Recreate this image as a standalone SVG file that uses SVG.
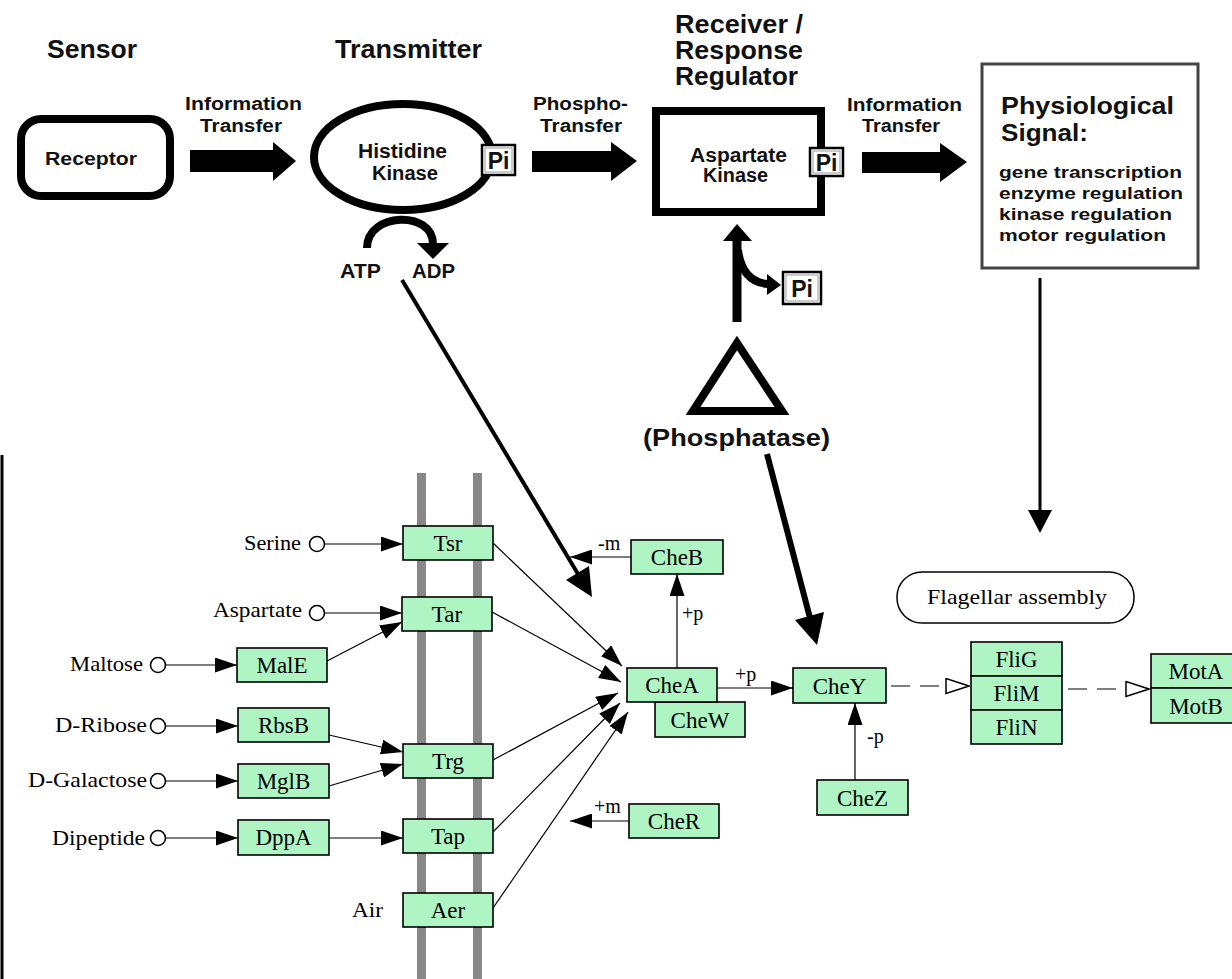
<svg xmlns="http://www.w3.org/2000/svg" width="1232" height="979" viewBox="0 0 1232 979">
<defs>
<style>
.hd{font-family:"Liberation Sans",Arial,sans-serif;font-weight:bold;fill:#111;}
.sr{font-family:"Liberation Serif","Times New Roman",serif;fill:#000;font-size:21px;}
.lb{font-family:"Liberation Serif","Times New Roman",serif;fill:#000;font-size:20px;}
.nd{fill:#AFF5C3;stroke:#000;stroke-width:1.6;}
.nt{font-family:"Liberation Serif","Times New Roman",serif;font-size:23px;text-anchor:middle;fill:#000;}
.thin{stroke:#000;stroke-width:1.2;fill:none;}
.ar{marker-end:url(#ah);}
.cir{fill:#fff;stroke:#000;stroke-width:1.6;}
.pi{fill:#fff;stroke:#000;stroke-width:2.5;}
.pin{fill:none;stroke:#999;stroke-width:1;}
.pit{font-family:"Liberation Sans",Arial,sans-serif;font-weight:bold;font-size:23px;text-anchor:middle;fill:#111;}
.thick{fill:#fff;stroke:#000;stroke-width:8;}
.mem{fill:#888;}
</style>
<marker id="ah" markerUnits="userSpaceOnUse" markerWidth="22" markerHeight="15" refX="22" refY="7.5" orient="auto" viewBox="0 0 22 15"><path d="M0,0 L22,7.5 L0,15 z" fill="#000"/></marker>
<marker id="oh" markerUnits="userSpaceOnUse" markerWidth="25" markerHeight="17" refX="24" refY="8.5" orient="auto" viewBox="0 0 25 17"><path d="M1,1 L24,8.5 L1,16 z" fill="#fff" stroke="#000" stroke-width="1.5"/></marker>
</defs>
<rect width="1232" height="979" fill="#fff"/>

<!-- headers -->
<g id="headers">
<text class="hd" x="47" y="58" font-size="25" textLength="90" lengthAdjust="spacingAndGlyphs">Sensor</text>
<text class="hd" x="335" y="58" font-size="25" textLength="147" lengthAdjust="spacingAndGlyphs">Transmitter</text>
<text class="hd" x="675" y="33" font-size="25" textLength="128" lengthAdjust="spacingAndGlyphs">Receiver /</text>
<text class="hd" x="675" y="59" font-size="25" textLength="128" lengthAdjust="spacingAndGlyphs">Response</text>
<text class="hd" x="675" y="85" font-size="25" textLength="123" lengthAdjust="spacingAndGlyphs">Regulator</text>
</g>

<!-- membrane -->
<g id="membrane">
<rect class="mem" x="417" y="473" width="9" height="506"/>
<rect class="mem" x="473" y="473" width="9" height="506"/>
</g>
<line x1="2" y1="455" x2="2" y2="979" stroke="#000" stroke-width="3"/>

<g id="connectors">
<!-- block arrows -->
<polygon points="190,150 273,150 273,142 296,161 273,181 273,172 190,172" fill="#000"/>
<text class="hd" x="185" y="110" font-size="18" textLength="117" lengthAdjust="spacingAndGlyphs">Information</text>
<text class="hd" x="200" y="132" font-size="18" textLength="82" lengthAdjust="spacingAndGlyphs">Transfer</text>
<polygon points="532,151 611,151 611,142 637,161 611,181 611,172 532,172" fill="#000"/>
<text class="hd" x="533" y="110" font-size="18" textLength="95" lengthAdjust="spacingAndGlyphs">Phospho-</text>
<text class="hd" x="540" y="132" font-size="18" textLength="82" lengthAdjust="spacingAndGlyphs">Transfer</text>
<polygon points="862,152 940,152 940,143 967,162 940,182 940,173 862,173" fill="#000"/>
<text class="hd" x="847" y="111" font-size="18" textLength="115" lengthAdjust="spacingAndGlyphs">Information</text>
<text class="hd" x="862" y="132" font-size="18" textLength="78" lengthAdjust="spacingAndGlyphs">Transfer</text>
<!-- ATP/ADP arc -->
<path d="M367,248 C367,212 433,210 433,244" fill="none" stroke="#000" stroke-width="8"/>
<polygon points="417,243 449,243 433,259" fill="#000"/>
<!-- phosphatase arrows -->
<line x1="737" y1="322" x2="737" y2="238" stroke="#000" stroke-width="9"/>
<polygon points="723,241 752,241 737,224" fill="#000"/>
<path d="M738,250 Q742,282 768,284" fill="none" stroke="#000" stroke-width="8"/>
<polygon points="767,274 767,295 781,285" fill="#000"/>
<!-- long arrows -->
<line x1="402" y1="280" x2="578" y2="574" stroke="#000" stroke-width="4"/>
<polygon points="592,597 589,566 566,580" fill="#000"/>
<line x1="767" y1="454" x2="810" y2="618" stroke="#000" stroke-width="6"/>
<polygon points="817,645 824,612 795,620" fill="#000"/>
<line x1="1040" y1="278" x2="1040" y2="512" stroke="#000" stroke-width="3"/>
<polygon points="1028,510 1052,510 1040,533" fill="#000"/>

<!-- pathway -->
<circle class="cir" cx="317" cy="544" r="7.5"/>
<line class="thin ar" x1="325" y1="544" x2="403" y2="544"/>
<circle class="cir" cx="317" cy="613" r="7.5"/>
<line class="thin ar" x1="325" y1="613" x2="402" y2="613"/>
<circle class="cir" cx="158" cy="665" r="7.5"/>
<line class="thin ar" x1="166" y1="665" x2="237" y2="665"/>
<circle class="cir" cx="158" cy="726" r="7.5"/>
<line class="thin ar" x1="166" y1="726" x2="238" y2="726"/>
<circle class="cir" cx="158" cy="781" r="7.5"/>
<line class="thin ar" x1="166" y1="781" x2="238" y2="781"/>
<circle class="cir" cx="158" cy="838" r="7.5"/>
<line class="thin ar" x1="166" y1="838" x2="238" y2="838"/>
<line class="thin ar" x1="327" y1="661" x2="402" y2="622"/>
<line class="thin ar" x1="329" y1="735" x2="403" y2="752"/>
<line class="thin ar" x1="329" y1="786" x2="403" y2="764"/>
<line class="thin ar" x1="329" y1="838" x2="403" y2="838"/>
<line class="thin ar" x1="493" y1="543" x2="622" y2="666"/>
<line class="thin ar" x1="492" y1="612" x2="621" y2="682"/>
<line class="thin ar" x1="493" y1="760" x2="618" y2="693"/>
<line class="thin ar" x1="493" y1="832" x2="620" y2="703"/>
<line class="thin ar" x1="493" y1="908" x2="628" y2="712"/>
<line class="thin ar" x1="677" y1="668" x2="677" y2="574"/>
<line class="thin ar" x1="631" y1="557" x2="570" y2="557"/>
<line class="thin ar" x1="629" y1="821" x2="570" y2="821"/>
<line class="thin ar" x1="717" y1="688" x2="793" y2="688"/>
<line class="thin ar" x1="855" y1="780" x2="855" y2="703"/>
<line class="thin" x1="891" y1="686" x2="969" y2="686" stroke-dasharray="19 10" marker-end="url(#oh)"/>
<line class="thin" x1="1068" y1="689" x2="1149" y2="689" stroke-dasharray="19 10" marker-end="url(#oh)"/>
<text class="lb" x="598" y="550">-m</text>
<text class="lb" x="682" y="620">+p</text>
<text class="lb" x="735" y="681">+p</text>
<text class="lb" x="594" y="813">+m</text>
<text class="lb" x="867" y="743">-p</text>
</g>

<!-- top nodes -->
<g id="receptor">
<rect class="thick" x="21" y="119" width="149" height="77" rx="20"/>
<text class="hd" x="45" y="165" font-size="19" textLength="92" lengthAdjust="spacingAndGlyphs">Receptor</text>
</g>
<g id="histidine-kinase">
<ellipse class="thick" cx="403" cy="157" rx="89" ry="53"/>
<text class="hd" x="358" y="158" font-size="20" textLength="89" lengthAdjust="spacingAndGlyphs">Histidine</text>
<text class="hd" x="372" y="180" font-size="20" textLength="66" lengthAdjust="spacingAndGlyphs">Kinase</text>
<rect class="pi" x="482" y="145" width="33" height="30"/>
<rect class="pin" x="485" y="148" width="27" height="24"/>
<text class="pit" x="498.5" y="169">Pi</text>
</g>
<g id="atp">
<text class="hd" x="340" y="278" font-size="20" textLength="41" lengthAdjust="spacingAndGlyphs">ATP</text>
</g>
<g id="adp">
<text class="hd" x="412" y="278" font-size="20" textLength="43" lengthAdjust="spacingAndGlyphs">ADP</text>
</g>
<g id="aspartate-kinase">
<rect class="thick" x="656" y="111" width="165" height="101"/>
<text class="hd" x="690" y="162" font-size="20" textLength="97" lengthAdjust="spacingAndGlyphs">Aspartate</text>
<text class="hd" x="703" y="182" font-size="20" textLength="65" lengthAdjust="spacingAndGlyphs">Kinase</text>
<rect class="pi" x="810" y="148" width="33" height="28"/>
<rect class="pin" x="813" y="151" width="27" height="22"/>
<text class="pit" x="826.5" y="171">Pi</text>
</g>
<g id="pi-released">
<rect class="pi" x="783" y="272" width="38" height="32"/>
<rect class="pin" x="786" y="275" width="32" height="26"/>
<text class="pit" x="802" y="297">Pi</text>
</g>
<g id="phosphatase">
<polygon points="737,343 693,411 782,411" fill="#fff" stroke="#000" stroke-width="8" stroke-linejoin="miter"/>
<text class="hd" x="643" y="446" font-size="24" textLength="187" lengthAdjust="spacingAndGlyphs">(Phosphatase)</text>
</g>
<g id="physiological-signal">
<rect x="982" y="64" width="216" height="204" fill="#fff" stroke="#444" stroke-width="3"/>
<text class="hd" x="1001" y="114" font-size="24" textLength="173" lengthAdjust="spacingAndGlyphs">Physiological</text>
<text class="hd" x="1001" y="141" font-size="24" textLength="87" lengthAdjust="spacingAndGlyphs">Signal:</text>
<text class="hd" x="999" y="178" font-size="17" textLength="183" lengthAdjust="spacingAndGlyphs">gene transcription</text>
<text class="hd" x="999" y="199" font-size="17" textLength="184" lengthAdjust="spacingAndGlyphs">enzyme regulation</text>
<text class="hd" x="999" y="220" font-size="17" textLength="173" lengthAdjust="spacingAndGlyphs">kinase regulation</text>
<text class="hd" x="999" y="241" font-size="17" textLength="167" lengthAdjust="spacingAndGlyphs">motor regulation</text>
</g>

<!-- ligands -->
<g id="serine"><text class="sr" x="301" y="550" text-anchor="end" textLength="57" lengthAdjust="spacingAndGlyphs">Serine</text></g>
<g id="aspartate"><text class="sr" x="302" y="617" text-anchor="end" textLength="89" lengthAdjust="spacingAndGlyphs">Aspartate</text></g>
<g id="maltose"><text class="sr" x="143" y="671" text-anchor="end" textLength="73" lengthAdjust="spacingAndGlyphs">Maltose</text></g>
<g id="d-ribose"><text class="sr" x="147" y="732" text-anchor="end" textLength="92" lengthAdjust="spacingAndGlyphs">D-Ribose</text></g>
<g id="d-galactose"><text class="sr" x="147" y="787" text-anchor="end" textLength="119" lengthAdjust="spacingAndGlyphs">D-Galactose</text></g>
<g id="dipeptide"><text class="sr" x="145" y="845" text-anchor="end" textLength="93" lengthAdjust="spacingAndGlyphs">Dipeptide</text></g>
<g id="air"><text class="sr" x="383" y="917" text-anchor="end" textLength="31" lengthAdjust="spacingAndGlyphs">Air</text></g>

<!-- gene nodes -->
<g id="Tsr"><rect class="nd" x="403" y="526" width="90" height="34"/><text class="nt" x="448" y="551">Tsr</text></g>
<g id="Tar"><rect class="nd" x="402" y="597" width="90" height="34"/><text class="nt" x="447" y="622">Tar</text></g>
<g id="Trg"><rect class="nd" x="403" y="744" width="90" height="34"/><text class="nt" x="448" y="769">Trg</text></g>
<g id="Tap"><rect class="nd" x="403" y="819" width="90" height="34"/><text class="nt" x="448" y="844">Tap</text></g>
<g id="Aer"><rect class="nd" x="403" y="893" width="90" height="34"/><text class="nt" x="448" y="918">Aer</text></g>
<g id="MalE"><rect class="nd" x="237" y="648" width="90" height="34"/><text class="nt" x="282" y="673">MalE</text></g>
<g id="RbsB"><rect class="nd" x="238" y="708" width="91" height="34"/><text class="nt" x="283.5" y="733">RbsB</text></g>
<g id="MglB"><rect class="nd" x="238" y="764" width="91" height="34"/><text class="nt" x="283.5" y="789">MglB</text></g>
<g id="DppA"><rect class="nd" x="238" y="820" width="91" height="35"/><text class="nt" x="283.5" y="845">DppA</text></g>
<g id="CheB"><rect class="nd" x="631" y="540" width="92" height="34"/><text class="nt" x="677" y="565">CheB</text></g>
<g id="CheW"><rect class="nd" x="655" y="702" width="90" height="35"/><text class="nt" x="700" y="728">CheW</text></g>
<g id="CheA"><rect class="nd" x="627" y="668" width="90" height="34"/><text class="nt" x="672" y="693">CheA</text></g>
<g id="CheR"><rect class="nd" x="629" y="804" width="90" height="34"/><text class="nt" x="674" y="829">CheR</text></g>
<g id="CheY"><rect class="nd" x="793" y="668" width="93" height="35"/><text class="nt" x="839.5" y="694">CheY</text></g>
<g id="CheZ"><rect class="nd" x="817" y="780" width="91" height="35"/><text class="nt" x="862.5" y="806">CheZ</text></g>
<g id="flagellar-assembly">
<rect x="897" y="572" width="237" height="51" rx="25" fill="#fff" stroke="#000" stroke-width="1.5"/>
<text class="sr" x="1017" y="604" text-anchor="middle" font-size="22" textLength="180" lengthAdjust="spacingAndGlyphs">Flagellar assembly</text>
</g>
<g id="FliG"><rect class="nd" x="971" y="642" width="91" height="34"/><text class="nt" x="1016.5" y="667">FliG</text></g>
<g id="FliM"><rect class="nd" x="971" y="676" width="91" height="34"/><text class="nt" x="1016.5" y="701">FliM</text></g>
<g id="FliN"><rect class="nd" x="971" y="710" width="91" height="34"/><text class="nt" x="1016.5" y="735">FliN</text></g>
<g id="MotA"><rect class="nd" x="1151" y="654" width="90" height="34"/><text class="nt" x="1196" y="679">MotA</text></g>
<g id="MotB"><rect class="nd" x="1151" y="688" width="90" height="35"/><text class="nt" x="1196" y="714">MotB</text></g>
</svg>
